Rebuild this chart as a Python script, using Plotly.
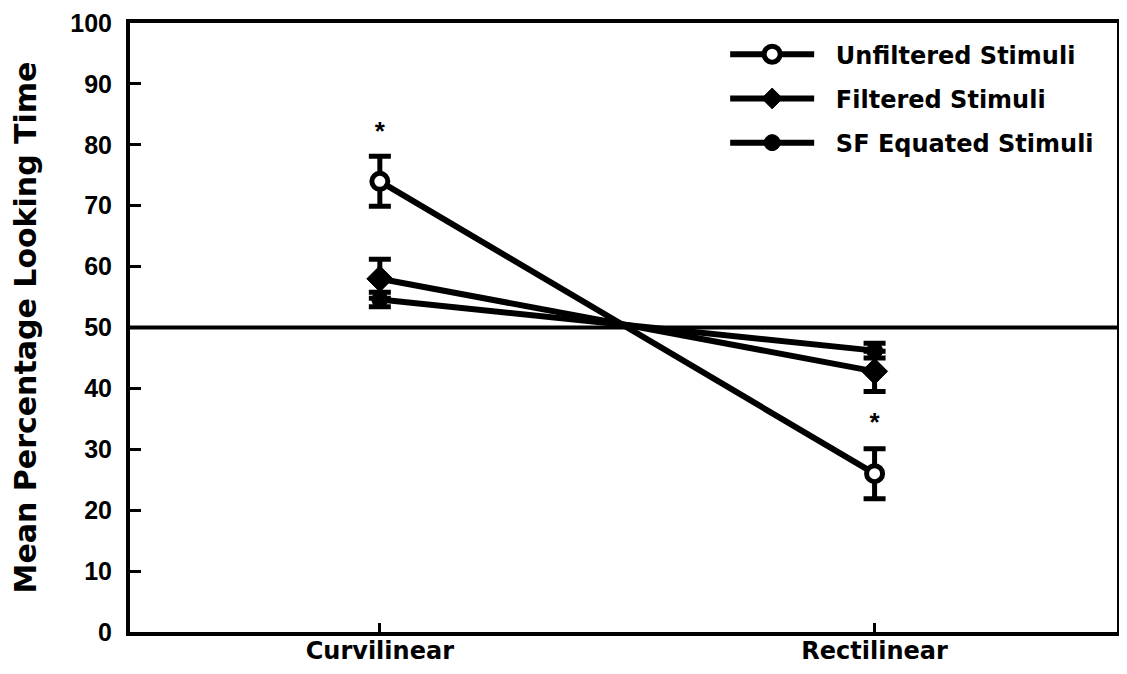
import plotly.graph_objects as go

categories = ["Curvilinear", "Rectilinear"]
series_names = ["Unfiltered Stimuli", "Filtered Stimuli", "SF Equated Stimuli"]
unfiltered = [74.0, 26.0]
unfiltered_err = [4.1, 4.1]
filtered = [58.0, 42.8]
filtered_err = [3.2, 3.3]
sf_equated = [54.6, 46.2]
sf_equated_err = [1.2, 1.2]
asterisk_y = [81.9, 34.1]
reference_level = 50
y_ticks = list(range(0, 101, 10))

TICK_FONT = dict(family="Liberation Sans, Arial, sans-serif", size=25, color="black", weight="bold")
CAT_FONT = dict(family="DejaVu Sans, sans-serif", size=24, color="black", weight="bold")
LEG_FONT = dict(family="DejaVu Sans, sans-serif", size=24, color="black", weight="bold")
TITLE_FONT = dict(family="DejaVu Sans, sans-serif", size=30, color="black", weight="bold")

fig = go.Figure()

styles = [
    (unfiltered, unfiltered_err, dict(symbol="circle", size=16, color="white", line=dict(color="black", width=5))),
    (filtered, filtered_err, dict(symbol="diamond", size=20, color="black", line=dict(color="black", width=1))),
    (sf_equated, sf_equated_err, dict(symbol="circle", size=16, color="black", line=dict(color="black", width=1))),
]

for i, (name, (vals, errs, marker)) in enumerate(zip(series_names, styles)):
    fig.add_trace(go.Scatter(
        x=categories, y=vals, name="\u00a0\u00a0" + name, mode="lines+markers",
        line=dict(color="black", width=6),
        marker=marker,
        error_y=dict(type="data", array=errs, visible=True, color="black", thickness=5, width=11),
        legendgroup=f"g{i}",
    ))

fig.add_trace(go.Scatter(
    x=categories, y=asterisk_y, mode="text", text=["*", "*"],
    textfont=dict(family="Liberation Sans, Arial, sans-serif", size=26, color="black", weight="bold"),
    showlegend=False, hoverinfo="skip",
))

fig.add_shape(type="line", xref="paper", yref="y", x0=0, x1=1.01, y0=reference_level, y1=reference_level,
              line=dict(color="black", width=4), layer="above")

fig.update_layout(
    width=1111, height=658,
    margin=dict(l=122, r=2, t=15, b=34, autoexpand=False),
    paper_bgcolor="white", plot_bgcolor="white",
    font=TICK_FONT,
    showlegend=True,
    legend=dict(x=0.603, y=0.985, xanchor="left", yanchor="top", font=LEG_FONT,
                bgcolor="rgba(0,0,0,0)", itemwidth=84, tracegroupgap=10),
    xaxis=dict(
        type="category", range=[-0.505, 1.49], automargin=False,
        showline=True, linecolor="black", linewidth=4, mirror=True,
        ticks="inside", ticklen=9, tickwidth=3, tickcolor="black",
        showgrid=False, zeroline=False, tickfont=CAT_FONT,
        ticklabelstandoff=-6, ticklabeloverflow="allow",
    ),
    yaxis=dict(
        range=[0, 100], tickvals=y_ticks, automargin=False,
        showline=True, linecolor="black", linewidth=4, mirror=True,
        ticks="inside", ticklen=11, tickwidth=3, tickcolor="black",
        showgrid=False, zeroline=False, tickfont=TICK_FONT, ticklabelstandoff=9,
        ticklabeloverflow="allow",
        title=dict(text="Mean Percentage Looking Time", font=TITLE_FONT, standoff=31),
    ),
)

fig.write_html("out.html")
